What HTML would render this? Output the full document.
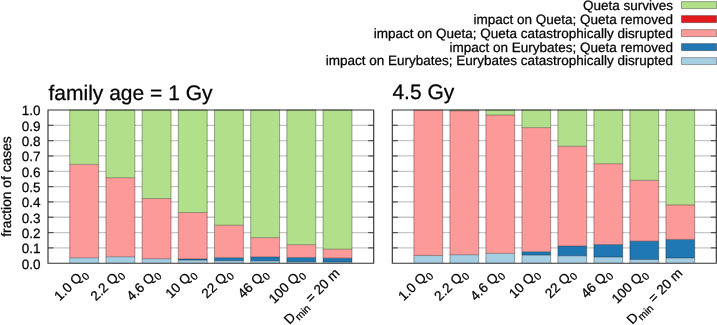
<!DOCTYPE html><html><head><meta charset="utf-8"><style>html,body{margin:0;padding:0;background:#fff;}svg{display:block;will-change:transform;}</style></head><body>
<svg width="717" height="325" viewBox="0 0 717 325" text-rendering="geometricPrecision" stroke-linejoin="round" font-family='"Liberation Sans", sans-serif'>
<style>text{stroke:#000;stroke-width:0.25px;}</style>
<rect width="717" height="325" fill="#fff"/>
<line x1="48.0" y1="247.88" x2="373.7" y2="247.88" stroke="#c6c6c6" stroke-width="1.3"/>
<line x1="48.0" y1="232.56" x2="373.7" y2="232.56" stroke="#c6c6c6" stroke-width="1.3"/>
<line x1="48.0" y1="217.24" x2="373.7" y2="217.24" stroke="#c6c6c6" stroke-width="1.3"/>
<line x1="48.0" y1="201.92" x2="373.7" y2="201.92" stroke="#c6c6c6" stroke-width="1.3"/>
<line x1="48.0" y1="186.60" x2="373.7" y2="186.60" stroke="#c6c6c6" stroke-width="1.3"/>
<line x1="48.0" y1="171.28" x2="373.7" y2="171.28" stroke="#c6c6c6" stroke-width="1.3"/>
<line x1="48.0" y1="155.96" x2="373.7" y2="155.96" stroke="#c6c6c6" stroke-width="1.3"/>
<line x1="48.0" y1="140.64" x2="373.7" y2="140.64" stroke="#c6c6c6" stroke-width="1.3"/>
<line x1="48.0" y1="125.32" x2="373.7" y2="125.32" stroke="#c6c6c6" stroke-width="1.3"/>
<rect x="69.71" y="257.84" width="28.95" height="5.36" fill="#a6cee3"/>
<rect x="69.71" y="164.39" width="28.95" height="93.45" fill="#fb9a99"/>
<rect x="69.71" y="110.00" width="28.95" height="54.39" fill="#b2df8a"/>
<path d="M69.71 257.84H98.66M69.71 164.39H98.66M69.71 263.20V110.00H98.66V263.20" fill="none" stroke="#000" stroke-opacity="0.33" stroke-width="1.0"/>
<rect x="105.90" y="256.77" width="28.95" height="6.43" fill="#a6cee3"/>
<rect x="105.90" y="177.71" width="28.95" height="79.05" fill="#fb9a99"/>
<rect x="105.90" y="110.00" width="28.95" height="67.71" fill="#b2df8a"/>
<path d="M105.90 256.77H134.85M105.90 177.71H134.85M105.90 263.20V110.00H134.85V263.20" fill="none" stroke="#000" stroke-opacity="0.33" stroke-width="1.0"/>
<rect x="142.09" y="258.76" width="28.95" height="4.44" fill="#a6cee3"/>
<rect x="142.09" y="198.55" width="28.95" height="60.21" fill="#fb9a99"/>
<rect x="142.09" y="110.00" width="28.95" height="88.55" fill="#b2df8a"/>
<path d="M142.09 258.76H171.04M142.09 198.55H171.04M142.09 263.20V110.00H171.04V263.20" fill="none" stroke="#000" stroke-opacity="0.33" stroke-width="1.0"/>
<rect x="178.28" y="260.14" width="28.95" height="3.06" fill="#a6cee3"/>
<rect x="178.28" y="258.91" width="28.95" height="1.23" fill="#1f78b4"/>
<rect x="178.28" y="212.49" width="28.95" height="46.42" fill="#fb9a99"/>
<rect x="178.28" y="110.00" width="28.95" height="102.49" fill="#b2df8a"/>
<path d="M178.28 260.14H207.23M178.28 258.91H207.23M178.28 212.49H207.23M178.28 263.20V110.00H207.23V263.20" fill="none" stroke="#000" stroke-opacity="0.33" stroke-width="1.0"/>
<rect x="214.47" y="260.75" width="28.95" height="2.45" fill="#a6cee3"/>
<rect x="214.47" y="257.68" width="28.95" height="3.06" fill="#1f78b4"/>
<rect x="214.47" y="225.21" width="28.95" height="32.48" fill="#fb9a99"/>
<rect x="214.47" y="110.00" width="28.95" height="115.21" fill="#b2df8a"/>
<path d="M214.47 260.75H243.42M214.47 257.68H243.42M214.47 225.21H243.42M214.47 263.20V110.00H243.42V263.20" fill="none" stroke="#000" stroke-opacity="0.33" stroke-width="1.0"/>
<rect x="250.66" y="260.90" width="28.95" height="2.30" fill="#a6cee3"/>
<rect x="250.66" y="256.92" width="28.95" height="3.98" fill="#1f78b4"/>
<rect x="250.66" y="237.62" width="28.95" height="19.30" fill="#fb9a99"/>
<rect x="250.66" y="110.00" width="28.95" height="127.62" fill="#b2df8a"/>
<path d="M250.66 260.90H279.61M250.66 256.92H279.61M250.66 237.62H279.61M250.66 263.20V110.00H279.61V263.20" fill="none" stroke="#000" stroke-opacity="0.33" stroke-width="1.0"/>
<rect x="286.85" y="261.82" width="28.95" height="1.38" fill="#a6cee3"/>
<rect x="286.85" y="257.53" width="28.95" height="4.29" fill="#1f78b4"/>
<rect x="286.85" y="244.66" width="28.95" height="12.87" fill="#fb9a99"/>
<rect x="286.85" y="110.00" width="28.95" height="134.66" fill="#b2df8a"/>
<path d="M286.85 261.82H315.80M286.85 257.53H315.80M286.85 244.66H315.80M286.85 263.20V110.00H315.80V263.20" fill="none" stroke="#000" stroke-opacity="0.33" stroke-width="1.0"/>
<rect x="323.04" y="261.97" width="28.95" height="1.23" fill="#a6cee3"/>
<rect x="323.04" y="258.14" width="28.95" height="3.83" fill="#1f78b4"/>
<rect x="323.04" y="249.18" width="28.95" height="8.96" fill="#fb9a99"/>
<rect x="323.04" y="110.00" width="28.95" height="139.18" fill="#b2df8a"/>
<path d="M323.04 261.97H351.99M323.04 258.14H351.99M323.04 249.18H351.99M323.04 263.20V110.00H351.99V263.20" fill="none" stroke="#000" stroke-opacity="0.33" stroke-width="1.0"/>
<line x1="48.0" y1="247.88" x2="53.5" y2="247.88" stroke="#505050" stroke-width="1.2"/>
<line x1="373.7" y1="247.88" x2="368.2" y2="247.88" stroke="#505050" stroke-width="1.2"/>
<line x1="48.0" y1="232.56" x2="53.5" y2="232.56" stroke="#505050" stroke-width="1.2"/>
<line x1="373.7" y1="232.56" x2="368.2" y2="232.56" stroke="#505050" stroke-width="1.2"/>
<line x1="48.0" y1="217.24" x2="53.5" y2="217.24" stroke="#505050" stroke-width="1.2"/>
<line x1="373.7" y1="217.24" x2="368.2" y2="217.24" stroke="#505050" stroke-width="1.2"/>
<line x1="48.0" y1="201.92" x2="53.5" y2="201.92" stroke="#505050" stroke-width="1.2"/>
<line x1="373.7" y1="201.92" x2="368.2" y2="201.92" stroke="#505050" stroke-width="1.2"/>
<line x1="48.0" y1="186.60" x2="53.5" y2="186.60" stroke="#505050" stroke-width="1.2"/>
<line x1="373.7" y1="186.60" x2="368.2" y2="186.60" stroke="#505050" stroke-width="1.2"/>
<line x1="48.0" y1="171.28" x2="53.5" y2="171.28" stroke="#505050" stroke-width="1.2"/>
<line x1="373.7" y1="171.28" x2="368.2" y2="171.28" stroke="#505050" stroke-width="1.2"/>
<line x1="48.0" y1="155.96" x2="53.5" y2="155.96" stroke="#505050" stroke-width="1.2"/>
<line x1="373.7" y1="155.96" x2="368.2" y2="155.96" stroke="#505050" stroke-width="1.2"/>
<line x1="48.0" y1="140.64" x2="53.5" y2="140.64" stroke="#505050" stroke-width="1.2"/>
<line x1="373.7" y1="140.64" x2="368.2" y2="140.64" stroke="#505050" stroke-width="1.2"/>
<line x1="48.0" y1="125.32" x2="53.5" y2="125.32" stroke="#505050" stroke-width="1.2"/>
<line x1="373.7" y1="125.32" x2="368.2" y2="125.32" stroke="#505050" stroke-width="1.2"/>
<rect x="48.0" y="110.0" width="325.7" height="153.2" fill="none" stroke="#333" stroke-width="1.15"/>
<text x="40.5" y="268.60" font-size="13.5" text-anchor="end" fill="#000">0.0</text>
<text x="40.5" y="253.28" font-size="13.5" text-anchor="end" fill="#000">0.1</text>
<text x="40.5" y="237.96" font-size="13.5" text-anchor="end" fill="#000">0.2</text>
<text x="40.5" y="222.64" font-size="13.5" text-anchor="end" fill="#000">0.3</text>
<text x="40.5" y="207.32" font-size="13.5" text-anchor="end" fill="#000">0.4</text>
<text x="40.5" y="192.00" font-size="13.5" text-anchor="end" fill="#000">0.5</text>
<text x="40.5" y="176.68" font-size="13.5" text-anchor="end" fill="#000">0.6</text>
<text x="40.5" y="161.36" font-size="13.5" text-anchor="end" fill="#000">0.7</text>
<text x="40.5" y="146.04" font-size="13.5" text-anchor="end" fill="#000">0.8</text>
<text x="40.5" y="130.72" font-size="13.5" text-anchor="end" fill="#000">0.9</text>
<text x="40.5" y="115.40" font-size="13.5" text-anchor="end" fill="#000">1.0</text>
<text x="87.19" y="274.10" font-size="13.5" text-anchor="end" transform="rotate(-45 87.19 274.10)">1.0 Q<tspan font-size="10.5" dy="4">0</tspan></text>
<text x="123.38" y="274.10" font-size="13.5" text-anchor="end" transform="rotate(-45 123.38 274.10)">2.2 Q<tspan font-size="10.5" dy="4">0</tspan></text>
<text x="159.57" y="274.10" font-size="13.5" text-anchor="end" transform="rotate(-45 159.57 274.10)">4.6 Q<tspan font-size="10.5" dy="4">0</tspan></text>
<text x="195.76" y="274.10" font-size="13.5" text-anchor="end" transform="rotate(-45 195.76 274.10)">10 Q<tspan font-size="10.5" dy="4">0</tspan></text>
<text x="231.94" y="274.10" font-size="13.5" text-anchor="end" transform="rotate(-45 231.94 274.10)">22 Q<tspan font-size="10.5" dy="4">0</tspan></text>
<text x="268.13" y="274.10" font-size="13.5" text-anchor="end" transform="rotate(-45 268.13 274.10)">46 Q<tspan font-size="10.5" dy="4">0</tspan></text>
<text x="304.32" y="274.10" font-size="13.5" text-anchor="end" transform="rotate(-45 304.32 274.10)">100 Q<tspan font-size="10.5" dy="4">0</tspan></text>
<text x="340.51" y="274.10" font-size="13.5" text-anchor="end" transform="rotate(-45 340.51 274.10)">D<tspan font-size="10.5" dy="4">min</tspan><tspan dy="-4"> = 20 m</tspan></text>
<line x1="392.3" y1="247.88" x2="716.3" y2="247.88" stroke="#c6c6c6" stroke-width="1.3"/>
<line x1="392.3" y1="232.56" x2="716.3" y2="232.56" stroke="#c6c6c6" stroke-width="1.3"/>
<line x1="392.3" y1="217.24" x2="716.3" y2="217.24" stroke="#c6c6c6" stroke-width="1.3"/>
<line x1="392.3" y1="201.92" x2="716.3" y2="201.92" stroke="#c6c6c6" stroke-width="1.3"/>
<line x1="392.3" y1="186.60" x2="716.3" y2="186.60" stroke="#c6c6c6" stroke-width="1.3"/>
<line x1="392.3" y1="171.28" x2="716.3" y2="171.28" stroke="#c6c6c6" stroke-width="1.3"/>
<line x1="392.3" y1="155.96" x2="716.3" y2="155.96" stroke="#c6c6c6" stroke-width="1.3"/>
<line x1="392.3" y1="140.64" x2="716.3" y2="140.64" stroke="#c6c6c6" stroke-width="1.3"/>
<line x1="392.3" y1="125.32" x2="716.3" y2="125.32" stroke="#c6c6c6" stroke-width="1.3"/>
<rect x="413.90" y="255.54" width="28.80" height="7.66" fill="#a6cee3"/>
<rect x="413.90" y="110.00" width="28.80" height="145.54" fill="#fb9a99"/>
<path d="M413.90 255.54H442.70M413.90 263.20V110.00H442.70V263.20" fill="none" stroke="#000" stroke-opacity="0.33" stroke-width="1.0"/>
<rect x="449.90" y="254.77" width="28.80" height="8.43" fill="#a6cee3"/>
<rect x="449.90" y="110.77" width="28.80" height="144.01" fill="#fb9a99"/>
<rect x="449.90" y="110.00" width="28.80" height="0.77" fill="#b2df8a"/>
<path d="M449.90 254.77H478.70M449.90 110.77H478.70M449.90 263.20V110.00H478.70V263.20" fill="none" stroke="#000" stroke-opacity="0.33" stroke-width="1.0"/>
<rect x="485.90" y="253.40" width="28.80" height="9.80" fill="#a6cee3"/>
<rect x="485.90" y="115.06" width="28.80" height="138.34" fill="#fb9a99"/>
<rect x="485.90" y="110.00" width="28.80" height="5.06" fill="#b2df8a"/>
<path d="M485.90 253.40H514.70M485.90 115.06H514.70M485.90 263.20V110.00H514.70V263.20" fill="none" stroke="#000" stroke-opacity="0.33" stroke-width="1.0"/>
<rect x="521.90" y="255.08" width="28.80" height="8.12" fill="#a6cee3"/>
<rect x="521.90" y="251.71" width="28.80" height="3.37" fill="#1f78b4"/>
<rect x="521.90" y="127.62" width="28.80" height="124.09" fill="#fb9a99"/>
<rect x="521.90" y="110.00" width="28.80" height="17.62" fill="#b2df8a"/>
<path d="M521.90 255.08H550.70M521.90 251.71H550.70M521.90 127.62H550.70M521.90 263.20V110.00H550.70V263.20" fill="none" stroke="#000" stroke-opacity="0.33" stroke-width="1.0"/>
<rect x="557.90" y="255.85" width="28.80" height="7.35" fill="#a6cee3"/>
<rect x="557.90" y="246.04" width="28.80" height="9.80" fill="#1f78b4"/>
<rect x="557.90" y="146.31" width="28.80" height="99.73" fill="#fb9a99"/>
<rect x="557.90" y="110.00" width="28.80" height="36.31" fill="#b2df8a"/>
<path d="M557.90 255.85H586.70M557.90 246.04H586.70M557.90 146.31H586.70M557.90 263.20V110.00H586.70V263.20" fill="none" stroke="#000" stroke-opacity="0.33" stroke-width="1.0"/>
<rect x="593.90" y="257.07" width="28.80" height="6.13" fill="#a6cee3"/>
<rect x="593.90" y="244.51" width="28.80" height="12.56" fill="#1f78b4"/>
<rect x="593.90" y="163.77" width="28.80" height="80.74" fill="#fb9a99"/>
<rect x="593.90" y="110.00" width="28.80" height="53.77" fill="#b2df8a"/>
<path d="M593.90 257.07H622.70M593.90 244.51H622.70M593.90 163.77H622.70M593.90 263.20V110.00H622.70V263.20" fill="none" stroke="#000" stroke-opacity="0.33" stroke-width="1.0"/>
<rect x="629.90" y="259.52" width="28.80" height="3.68" fill="#a6cee3"/>
<rect x="629.90" y="241.14" width="28.80" height="18.38" fill="#1f78b4"/>
<rect x="629.90" y="180.32" width="28.80" height="60.82" fill="#fb9a99"/>
<rect x="629.90" y="110.00" width="28.80" height="70.32" fill="#b2df8a"/>
<path d="M629.90 259.52H658.70M629.90 241.14H658.70M629.90 180.32H658.70M629.90 263.20V110.00H658.70V263.20" fill="none" stroke="#000" stroke-opacity="0.33" stroke-width="1.0"/>
<rect x="665.90" y="257.99" width="28.80" height="5.21" fill="#a6cee3"/>
<rect x="665.90" y="239.45" width="28.80" height="18.54" fill="#1f78b4"/>
<rect x="665.90" y="204.98" width="28.80" height="34.47" fill="#fb9a99"/>
<rect x="665.90" y="110.00" width="28.80" height="94.98" fill="#b2df8a"/>
<path d="M665.90 257.99H694.70M665.90 239.45H694.70M665.90 204.98H694.70M665.90 263.20V110.00H694.70V263.20" fill="none" stroke="#000" stroke-opacity="0.33" stroke-width="1.0"/>
<line x1="392.3" y1="247.88" x2="397.8" y2="247.88" stroke="#505050" stroke-width="1.2"/>
<line x1="716.3" y1="247.88" x2="710.8" y2="247.88" stroke="#505050" stroke-width="1.2"/>
<line x1="392.3" y1="232.56" x2="397.8" y2="232.56" stroke="#505050" stroke-width="1.2"/>
<line x1="716.3" y1="232.56" x2="710.8" y2="232.56" stroke="#505050" stroke-width="1.2"/>
<line x1="392.3" y1="217.24" x2="397.8" y2="217.24" stroke="#505050" stroke-width="1.2"/>
<line x1="716.3" y1="217.24" x2="710.8" y2="217.24" stroke="#505050" stroke-width="1.2"/>
<line x1="392.3" y1="201.92" x2="397.8" y2="201.92" stroke="#505050" stroke-width="1.2"/>
<line x1="716.3" y1="201.92" x2="710.8" y2="201.92" stroke="#505050" stroke-width="1.2"/>
<line x1="392.3" y1="186.60" x2="397.8" y2="186.60" stroke="#505050" stroke-width="1.2"/>
<line x1="716.3" y1="186.60" x2="710.8" y2="186.60" stroke="#505050" stroke-width="1.2"/>
<line x1="392.3" y1="171.28" x2="397.8" y2="171.28" stroke="#505050" stroke-width="1.2"/>
<line x1="716.3" y1="171.28" x2="710.8" y2="171.28" stroke="#505050" stroke-width="1.2"/>
<line x1="392.3" y1="155.96" x2="397.8" y2="155.96" stroke="#505050" stroke-width="1.2"/>
<line x1="716.3" y1="155.96" x2="710.8" y2="155.96" stroke="#505050" stroke-width="1.2"/>
<line x1="392.3" y1="140.64" x2="397.8" y2="140.64" stroke="#505050" stroke-width="1.2"/>
<line x1="716.3" y1="140.64" x2="710.8" y2="140.64" stroke="#505050" stroke-width="1.2"/>
<line x1="392.3" y1="125.32" x2="397.8" y2="125.32" stroke="#505050" stroke-width="1.2"/>
<line x1="716.3" y1="125.32" x2="710.8" y2="125.32" stroke="#505050" stroke-width="1.2"/>
<rect x="392.3" y="110.0" width="323.99999999999994" height="153.2" fill="none" stroke="#333" stroke-width="1.15"/>
<text x="431.30" y="274.10" font-size="13.5" text-anchor="end" transform="rotate(-45 431.30 274.10)">1.0 Q<tspan font-size="10.5" dy="4">0</tspan></text>
<text x="467.30" y="274.10" font-size="13.5" text-anchor="end" transform="rotate(-45 467.30 274.10)">2.2 Q<tspan font-size="10.5" dy="4">0</tspan></text>
<text x="503.30" y="274.10" font-size="13.5" text-anchor="end" transform="rotate(-45 503.30 274.10)">4.6 Q<tspan font-size="10.5" dy="4">0</tspan></text>
<text x="539.30" y="274.10" font-size="13.5" text-anchor="end" transform="rotate(-45 539.30 274.10)">10 Q<tspan font-size="10.5" dy="4">0</tspan></text>
<text x="575.30" y="274.10" font-size="13.5" text-anchor="end" transform="rotate(-45 575.30 274.10)">22 Q<tspan font-size="10.5" dy="4">0</tspan></text>
<text x="611.30" y="274.10" font-size="13.5" text-anchor="end" transform="rotate(-45 611.30 274.10)">46 Q<tspan font-size="10.5" dy="4">0</tspan></text>
<text x="647.30" y="274.10" font-size="13.5" text-anchor="end" transform="rotate(-45 647.30 274.10)">100 Q<tspan font-size="10.5" dy="4">0</tspan></text>
<text x="683.30" y="274.10" font-size="13.5" text-anchor="end" transform="rotate(-45 683.30 274.10)">D<tspan font-size="10.5" dy="4">min</tspan><tspan dy="-4"> = 20 m</tspan></text>
<text x="48.5" y="99.7" font-size="21">family age = 1 Gy</text>
<text x="392.4" y="99.4" font-size="21">4.5 Gy</text>
<text x="10.6" y="186.5" font-size="13.8" text-anchor="middle" transform="rotate(-90 10.6 186.5)">fraction of cases</text>
<text x="673.1" y="10.10" font-size="13.5" text-anchor="end">Queta survives</text>
<rect x="681.5" y="1.60" width="35.1" height="7.0" fill="#b2df8a" stroke="#000" stroke-opacity="0.33" stroke-width="1.0"/>
<text x="673.1" y="23.90" font-size="13.5" text-anchor="end">impact on Queta; Queta removed</text>
<rect x="681.5" y="15.60" width="35.1" height="7.0" fill="#e31a1c" stroke="#000" stroke-opacity="0.33" stroke-width="1.0"/>
<text x="673.1" y="37.70" font-size="13.5" text-anchor="end">impact on Queta; Queta catastrophically disrupted</text>
<rect x="681.5" y="29.60" width="35.1" height="7.0" fill="#fb9a99" stroke="#000" stroke-opacity="0.33" stroke-width="1.0"/>
<text x="673.1" y="51.50" font-size="13.5" text-anchor="end">impact on Eurybates; Queta removed</text>
<rect x="681.5" y="43.60" width="35.1" height="7.0" fill="#1f78b4" stroke="#000" stroke-opacity="0.33" stroke-width="1.0"/>
<text x="673.1" y="65.30" font-size="13.5" text-anchor="end">impact on Eurybates; Eurybates catastrophically disrupted</text>
<rect x="681.5" y="57.60" width="35.1" height="7.0" fill="#a6cee3" stroke="#000" stroke-opacity="0.33" stroke-width="1.0"/>
</svg></body></html>
